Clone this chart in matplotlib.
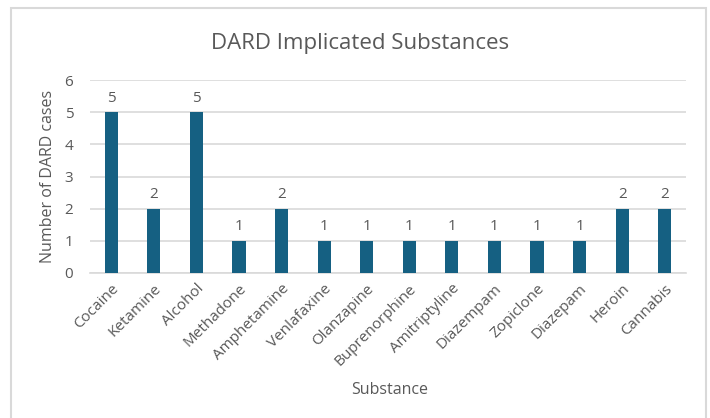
import matplotlib
matplotlib.use("Agg")
import matplotlib.pyplot as plt
from matplotlib.patches import Rectangle

substances = ["Cocaine", "Ketamine", "Alcohol", "Methadone", "Amphetamine",
              "Venlafaxine", "Olanzapine", "Buprenorphine", "Amitriptyline",
              "Diazempam", "Zopiclone", "Diazepam", "Heroin", "Cannabis"]
cases = [5, 2, 5, 1, 2, 1, 1, 1, 1, 1, 1, 1, 2, 2]
y_ticks = [0, 1, 2, 3, 4, 5, 6]

BAR_COLOR = "#156082"
TEXT_COLOR = "#595959"
GRID_COLOR = "#D9D9D9"

plt.rcParams["font.family"] = ["Open Sans", "DejaVu Sans"]

fig = plt.figure(figsize=(7.1, 4.18), dpi=100)
# chart frame (bottom edge falls just outside the canvas)
fig.patches.append(Rectangle((11 / 710, -5 / 418), 695 / 710, 415 / 418,
                             transform=fig.transFigure, fill=False,
                             edgecolor=GRID_COLOR, linewidth=1.5))

ax = fig.add_axes([90 / 710, 1 - 273 / 418, 596 / 710, 193 / 418])
x = range(len(substances))
bars = ax.bar(x, cases, width=0.31, color=BAR_COLOR, zorder=3)
for xi, v in zip(x, cases):
    ax.text(xi, v + 0.2, str(v), ha="center", va="bottom",
            fontsize=11, color=TEXT_COLOR)

ax.set_xlim(-0.5, len(substances) - 0.5)
ax.set_ylim(0, 6)
ax.set_yticks(y_ticks)
ax.set_xticks(list(x))
ax.set_xticklabels(substances, rotation=45, ha="right", rotation_mode="anchor")
ax.tick_params(axis="both", length=0, labelsize=11, labelcolor=TEXT_COLOR)
ax.tick_params(axis="y", pad=12)
ax.tick_params(axis="x", pad=6)
ax.grid(axis="y", color=GRID_COLOR, linewidth=1.2, zorder=0)
for s in ["top", "right", "left"]:
    ax.spines[s].set_visible(False)
ax.spines["bottom"].set_color(GRID_COLOR)
ax.spines["bottom"].set_linewidth(1.2)

ax.set_ylabel("Number of DARD cases", fontsize=11.5, color=TEXT_COLOR, labelpad=6)
fig.text(390 / 710, 1 - 390 / 418, "Substance", ha="center", va="center",
         fontsize=11.5, color=TEXT_COLOR)
fig.text(360 / 710, 1 - 44 / 418, "DARD Implicated Substances", ha="center",
         va="center", fontsize=16, color=TEXT_COLOR)

fig.savefig("out.png", dpi=100)
